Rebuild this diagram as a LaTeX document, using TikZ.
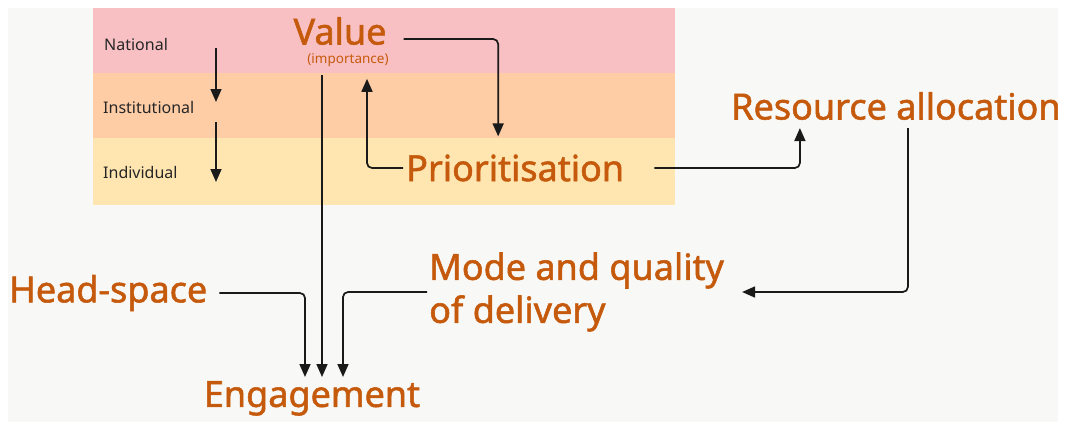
\documentclass[tikz,border=0pt]{standalone}
\usepackage{fontspec}
\setmainfont{Noto Sans}
\newfontfamily\heavyfont{Noto Sans}[FakeBold=1.5]
\usetikzlibrary{arrows.meta}
\definecolor{bgcol}{HTML}{F8F8F6}
\definecolor{natcol}{HTML}{F9C0C4}
\definecolor{inscol}{HTML}{FECDA6}
\definecolor{indcol}{HTML}{FFE5B0}
\definecolor{txtcol}{HTML}{C65A0C}
\definecolor{arrcol}{HTML}{1A1A1A}
\tikzset{
  big/.style={text=txtcol, inner sep=0pt, font=\heavyfont\fontsize{36}{40}\selectfont},
  level/.style={text=black!85, inner sep=0pt, anchor=west, font=\fontsize{16}{18}\selectfont},
  link/.style={draw=arrcol, line width=1.7pt, rounded corners=5pt, -{Triangle[length=13pt,width=11pt]}}
}
\begin{document}
\begin{tikzpicture}[x=1pt,y=-1pt]
	\useasboundingbox (0,0) rectangle (1068,432);
	\fill[bgcol] (8,8) rectangle (1058,422);
	% levels
	\fill[natcol] (93,8) rectangle (675,73);
	\fill[inscol] (93,73) rectangle (675,138);
	\fill[indcol] (93,138) rectangle (675,205);
	\node[level] (nat) at (104,44) {National};
	\node[level] (ins) at (103,107) {Institutional};
	\node[level] (ind) at (103,172) {Individual};
	\draw[link] (216,48) -- (216,102);
	\draw[link] (216,122) -- (216,182);
	% main terms
	\node[big] (value) at (340,31) {Value};
	\node[text=txtcol, inner sep=0pt, font=\fontsize{13.5}{15}\selectfont\bfseries] (imp) at (348,60) {(importance)};
	\node[big, anchor=west] (prio) at (406,168) {Prioritisation};
	\node[big, anchor=west] (res) at (731,106) {Resource allocation};
	\node[big, anchor=west, align=left, font=\heavyfont\fontsize{36}{43}\selectfont] (mode) at (429,292) {Mode and quality\\of delivery};
	\node[big, anchor=west] (head) at (9,293) {Head-space};
	\node[big, anchor=north] (eng) at (312,381) {Engagement};
	% connectors
	\draw[link] ([xshift=17pt,yshift=-8pt]value.east) -| ([xshift=-17pt,yshift=18pt]prio.north);
	\draw[link] ([xshift=-3pt]prio.west) -| ([xshift=19pt,yshift=-12pt]imp.south);
	\draw[link] ([xshift=-26pt,yshift=-8pt]imp.south) -- ([xshift=10pt,yshift=4pt]eng.north);
	\draw[link] ([xshift=30pt]prio.east) -| ([xshift=-96pt,yshift=-8pt]res.south);
	\draw[link] ([xshift=12pt,yshift=-8pt]res.south) |- ([xshift=18pt]mode.east);
	\draw[link] ([xshift=12pt]head.east) -| ([xshift=-7pt,yshift=4pt]eng.north);
	\draw[link] ([xshift=-2pt]mode.west) -| ([xshift=31pt,yshift=4pt]eng.north);
\end{tikzpicture}
\end{document}
